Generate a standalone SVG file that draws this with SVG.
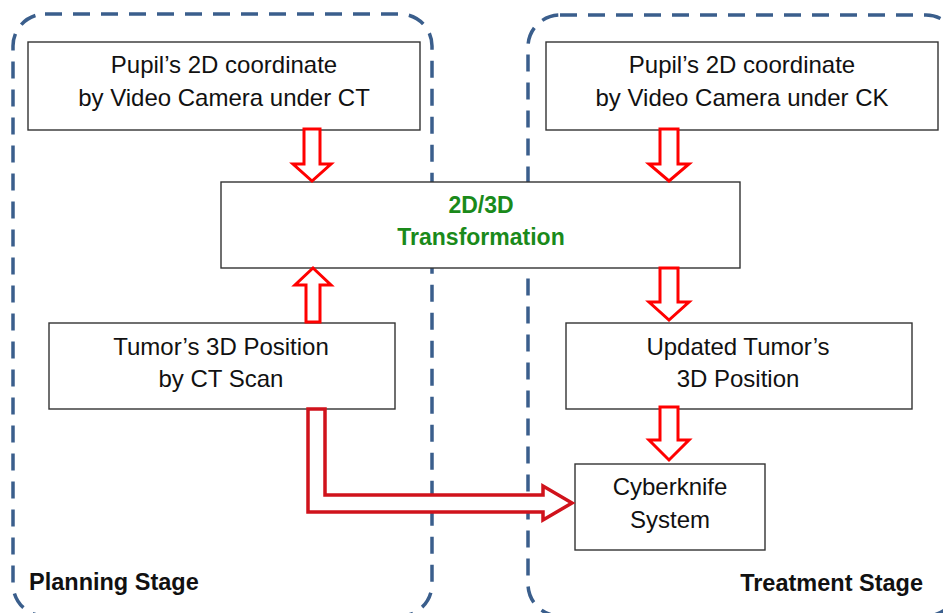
<svg xmlns="http://www.w3.org/2000/svg" width="943" height="613" viewBox="0 0 943 613">
<style>
.stage{fill:none;stroke:#3a5e8c;stroke-width:3.5;stroke-dasharray:17 11}
.box{fill:#fff;stroke:#333;stroke-width:1.4}
.t{font-family:"Liberation Sans",Arial,sans-serif;font-size:24px;fill:#111;text-anchor:middle}
.g{font-family:"Liberation Sans",Arial,sans-serif;font-size:23px;font-weight:bold;fill:#1a8a1a;text-anchor:middle}
.lbl{font-family:"Liberation Sans",Arial,sans-serif;font-size:23.5px;font-weight:bold;fill:#111}
.arr{fill:#fff;stroke:#f00;stroke-width:3;stroke-linejoin:miter}
.arr2{fill:#fff;stroke:#d0121b;stroke-width:3.5;stroke-linejoin:miter}
</style>
<rect width="943" height="613" fill="#fff"/>
<g id="planning-stage">
<rect class="stage" x="13" y="14" width="419" height="602" rx="32"/>
<text class="lbl" x="29" y="590">Planning Stage</text>
</g>
<g id="treatment-stage">
<rect class="stage" x="528" y="15" width="430" height="601" rx="32"/>
<text class="lbl" x="923" y="591" text-anchor="end">Treatment Stage</text>
</g>
<g id="pupil-ct">
<rect class="box" x="28" y="42" width="392" height="88"/>
<text class="t" x="224" y="73">Pupil’s 2D coordinate</text>
<text class="t" x="224" y="106">by Video Camera under CT</text>
</g>
<g id="pupil-ck">
<rect class="box" x="546" y="42" width="392" height="88"/>
<text class="t" x="742" y="73">Pupil’s 2D coordinate</text>
<text class="t" x="742" y="106">by Video Camera under CK</text>
</g>
<g id="transformation">
<rect class="box" x="221" y="182" width="519" height="86"/>
<text class="g" x="481" y="213">2D/3D</text>
<text class="g" x="481" y="245">Transformation</text>
</g>
<g id="tumor-ct">
<rect class="box" x="49" y="323" width="346" height="86"/>
<text class="t" x="221" y="355">Tumor’s 3D Position</text>
<text class="t" x="221" y="387">by CT Scan</text>
</g>
<g id="updated-tumor">
<rect class="box" x="566" y="323" width="346" height="86"/>
<text class="t" x="738" y="355">Updated Tumor’s</text>
<text class="t" x="738" y="387">3D Position</text>
</g>
<g id="cyberknife">
<rect class="box" x="575" y="464" width="190" height="86"/>
<text class="t" x="670" y="495">Cyberknife</text>
<text class="t" x="670" y="528">System</text>
</g>
<g id="connectors">
<polygon class="arr" points="304,129 320,129 320,164 331,164 312,181 293,164 304,164"/>
<polygon class="arr" points="660,129 678,129 678,164 689,164 669,181 649,164 660,164"/>
<polygon class="arr" points="306,322 320,322 320,285 331,285 313,268 295,285 306,285"/>
<polygon class="arr" points="660,268 678,268 678,302 689,302 669,320 649,302 660,302"/>
<polygon class="arr" points="660,407 678,407 678,440 689,440 669,460 649,440 660,440"/>
<polygon class="arr2" points="308,409 308,512 543,512 543,520 572,503 543,486 543,495 325,495 325,409"/>
</g>
</svg>
